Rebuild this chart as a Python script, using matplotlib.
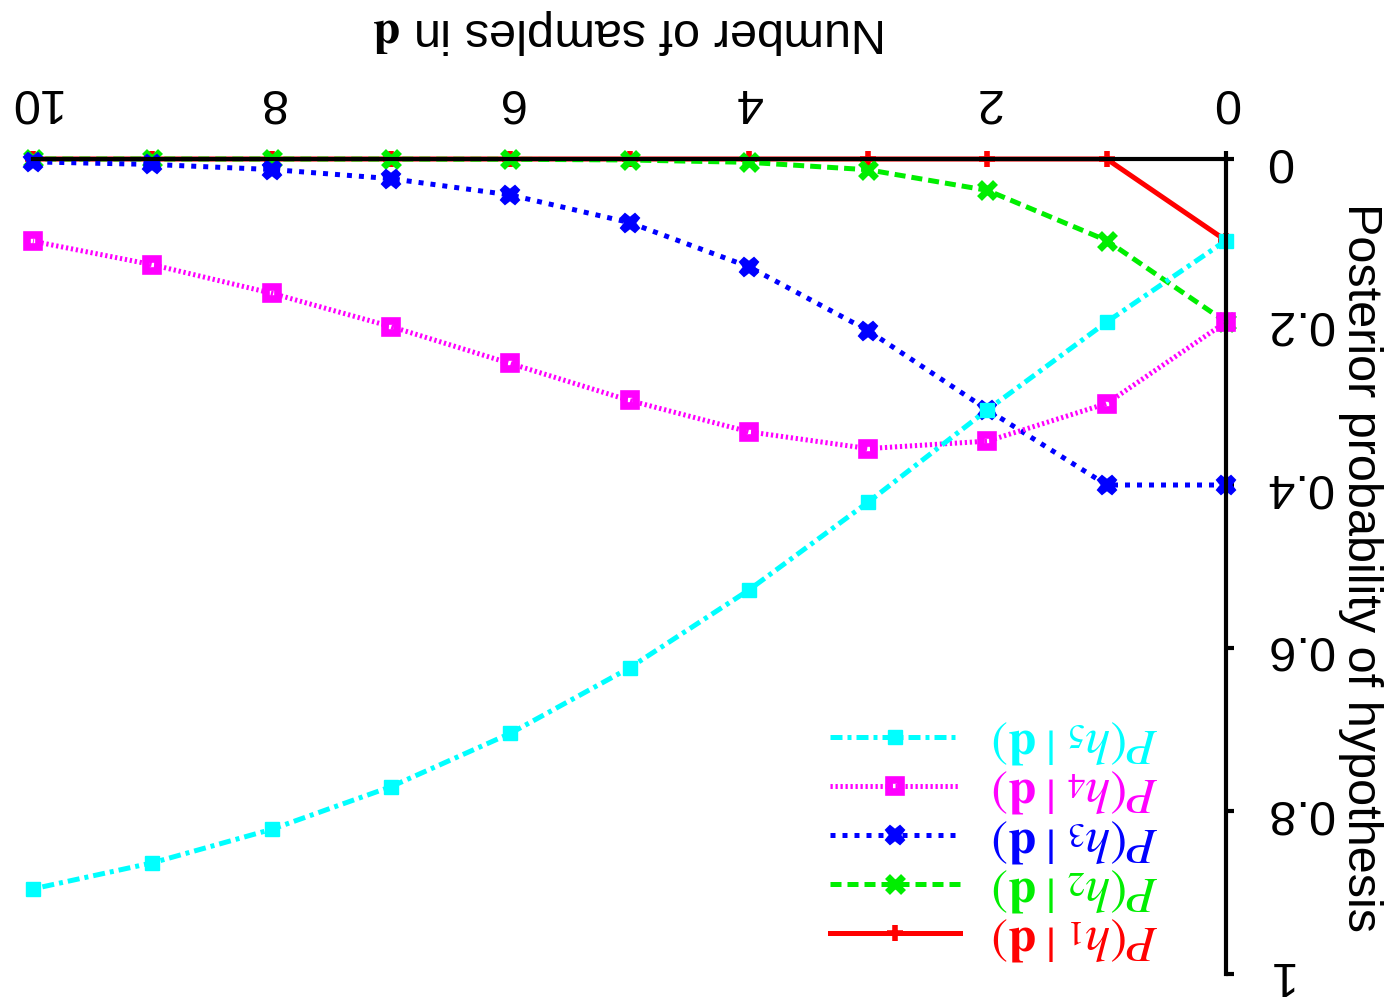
import matplotlib
matplotlib.use("Agg")
import matplotlib.pyplot as plt

plt.rcParams["font.family"] = ["Liberation Sans", "DejaVu Sans"]
plt.rcParams["mathtext.fontset"] = "stix"

### posterior values, n = 0..10 samples
samples = [0, 1, 2, 3, 4, 5, 6, 7, 8, 9, 10]
h1 = [0.1, 0, 0, 0, 0, 0, 0, 0, 0, 0, 0]
h2 = [0.2, 0.1, 0.0385, 0.0132, 0.0041, 0.0012, 0.0003, 0.0001, 0.0, 0.0, 0.0]
h3 = [0.4, 0.4, 0.3077, 0.2105, 0.1322, 0.0780, 0.0441, 0.0241, 0.0129, 0.0067, 0.0035]
h4 = [0.2, 0.3, 0.3462, 0.3553, 0.3347, 0.2963, 0.2509, 0.2056, 0.1647, 0.1297, 0.1009]
h5 = [0.1, 0.2, 0.3077, 0.4211, 0.5289, 0.6244, 0.7048, 0.7702, 0.8225, 0.8636, 0.8956]

x_ticks = [0, 2, 4, 6, 8, 10]
y_ticks = [0, 0.2, 0.4, 0.6, 0.8, 1]
y_ticklabels = ["0", "0.2", "0.4", "0.6", "0.8", "1"]

lw = 3.6
styles = [
    # values, label, color, linestyle, marker, marker kwargs
    (h1, r"$P(h_1\;|\;\mathbf{d})$", "#ff0000", "-", "+", dict(markersize=12, markeredgewidth=4)),
    (h2, r"$P(h_2\;|\;\mathbf{d})$", "#00ee00", (0, (2.2, 1.2)), "x", dict(markersize=11, markeredgewidth=5)),
    (h3, r"$P(h_3\;|\;\mathbf{d})$", "#0000ff", (0, (1.0, 1.4)), "X", dict(markersize=13, markeredgewidth=1.5)),
    (h4, r"$P(h_4\;|\;\mathbf{d})$", "#ff00ff", (0, (0.45, 0.55)), "s", dict(markersize=8, markeredgewidth=5.5, markerfacecolor="none")),
    (h5, r"$P(h_5\;|\;\mathbf{d})$", "#00ffff", (0, (2.4, 1.0, 0.8, 1.0)), "s", dict(markersize=10, markeredgewidth=1)),
]

fig = plt.figure(figsize=(13.99, 10.03), dpi=100)
ax = fig.add_axes([33 / 1399, 1 - 975 / 1003, (1226 - 33) / 1399, (975 - 160) / 1003])

handles = []
for vals, label, color, ls, mk, mkw in styles:
    line, = ax.plot(samples, vals, color=color, linestyle=ls, linewidth=lw,
                    marker=mk, label=label, clip_on=False, **mkw)
    handles.append(line)

# whole chart is turned upside down
ax.set_xlim(10, 0)
ax.set_ylim(1, 0)
ax.xaxis.tick_top()
ax.xaxis.set_label_position("top")
ax.yaxis.tick_right()
ax.yaxis.set_label_position("right")
for side in ["left", "bottom"]:
    ax.spines[side].set_visible(False)
for side in ["top", "right"]:
    ax.spines[side].set_linewidth(3)

ax.set_xticks(x_ticks)
ax.set_xticklabels([str(t) for t in x_ticks])
ax.set_yticks(y_ticks)
ax.set_yticklabels(y_ticklabels)
ax.tick_params(axis="both", direction="out", length=6, width=3, labelsize=35)
ax.tick_params(axis="x", pad=20)
ax.tick_params(axis="y", pad=22)
for t in ax.get_xticklabels() + ax.get_yticklabels():
    t.set_rotation(180)
for t in ax.get_yticklabels():
    t.set_verticalalignment("center")

ax.set_xlabel(r"Number of samples in $\mathbf{d}$", fontsize=35, rotation=180,
              va="top", labelpad=52)
ax.set_ylabel("Posterior probability of hypothesis", fontsize=35, rotation=270,
              va="bottom", labelpad=4)

leg = ax.legend(handles[::-1], [h.get_label() for h in handles[::-1]],
                loc="lower right", bbox_to_anchor=(0.981, -0.04),
                frameon=False, fontsize=36, numpoints=1, markerfirst=True,
                handlelength=2.6, handletextpad=0.65, labelspacing=0.03)
for txt, h in zip(leg.get_texts(), handles[::-1]):
    txt.set_rotation(180)
    txt.set_color(h.get_color())

fig.savefig("out.png", dpi=100)
